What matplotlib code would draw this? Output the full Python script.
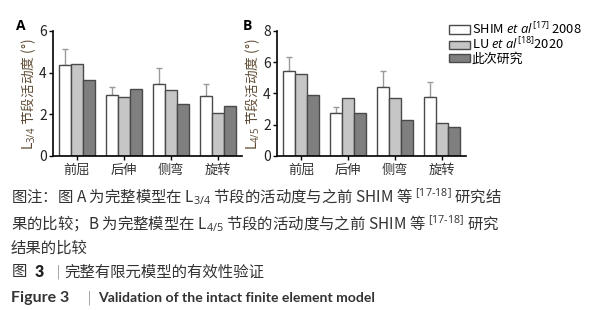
import numpy as np
import matplotlib
matplotlib.use('Agg')
from matplotlib import pyplot as plt

plt.rcParams['font.family'] = ['Noto Sans CJK SC', 'DejaVu Sans']
plt.rcParams['mathtext.fontset'] = 'custom'
plt.rcParams['mathtext.rm'] = 'Open Sans'
plt.rcParams['mathtext.it'] = 'Open Sans:italic'
plt.rcParams['mathtext.bf'] = 'Open Sans:bold'

categories = ['前屈', '后伸', '侧弯', '旋转']
series_names = [r'SHIM $\mathit{et\ al}^{\mathrm{[17]}}$ 2008',
                r'LU $\mathit{et\ al}^{\mathrm{[18]}}$2020',
                '此次研究']

# panel A: L3/4
shim_a = [4.35, 2.94, 3.47, 2.88]
shim_a_err = [0.79, 0.37, 0.74, 0.59]
lu_a = [4.40, 2.85, 3.18, 2.08]
this_a = [3.67, 3.23, 2.51, 2.42]

# panel B: L4/5
shim_b = [5.46, 2.77, 4.44, 3.75]
shim_b_err = [0.88, 0.39, 1.02, 1.01]
lu_b = [5.27, 3.71, 3.73, 2.09]
this_b = [3.93, 2.77, 2.33, 1.83]

colors = ['#ffffff', '#c6c6c6', '#7f7f7f']
edge = '#4a4a4a'
lab_color = '#5e4a33'

fig = plt.figure(figsize=(6.05, 3.10), dpi=100)
axA = fig.add_axes([0.0876, 0.497, 0.3124, 0.403])
axB = fig.add_axes([0.458, 0.497, 0.3124, 0.403])


def draw(ax, shim, err, lu, this, ymax, ylab):
    x = np.arange(len(categories))
    w = 0.255
    bars = []
    for i, (vals, c) in enumerate(zip([shim, lu, this], colors)):
        b = ax.bar(x + (i - 1) * w, vals, w, color=c, edgecolor=edge, linewidth=1.0, zorder=2)
        bars.append(b)
    ax.errorbar(x - w, shim, yerr=[np.zeros(len(err)), err], fmt='none',
                ecolor='#9a9a9a', elinewidth=1.0, capsize=2.2, capthick=1.0, zorder=1)
    ax.set_xlim(-0.51, 3.51)
    ax.set_ylim(0, ymax)
    ax.set_yticks(np.arange(0, ymax + 1, 2))
    ax.set_xticks(x)
    ax.set_xticklabels(categories, fontsize=9.5, color='#333333')
    ax.tick_params(axis='y', labelsize=10, length=3, width=1, pad=1.5, labelcolor='#222222')
    ax.tick_params(axis='x', length=3, width=1, pad=3)
    for s in ['top', 'right']:
        ax.spines[s].set_visible(False)
    ax.spines['left'].set_linewidth(1.2)
    ax.spines['bottom'].set_linewidth(1.2)
    ax.set_ylabel(ylab, fontsize=9.8, color=lab_color)
    ax.yaxis.label.set_va('center')
    ax.yaxis.set_label_coords(-0.13, 0.49)
    return bars


draw(axA, shim_a, shim_a_err, lu_a, this_a, 6, r'L$_{3/4}$ 节段活动度 (°)')
bars = draw(axB, shim_b, shim_b_err, lu_b, this_b, 8, r'L$_{4/5}$ 节段活动度 (°)')

fig.text(0.027, 0.915, 'A', fontsize=10, fontweight='bold', family='Open Sans', va='center')
fig.text(0.402, 0.915, 'B', fontsize=10, fontweight='bold', family='Open Sans', va='center')

# one legend per row so the rows can sit as close as in the reference
row_y = [0.907, 0.857, 0.810]
for b, name, yy in zip(bars, series_names, row_y):
    fig.legend([b], [name], loc='center left', bbox_to_anchor=(0.742, yy),
               frameon=False, fontsize=9.3, handlelength=1.6, handleheight=0.6,
               handletextpad=0.15, borderpad=0.0, borderaxespad=0.0)

cap = '#333333'
cfs = 11.1
fig.text(0.018, 0.365, r'图注：图 A 为完整模型在 L$_{3/4}$ 节段的活动度与之前 SHIM 等 $^{\text{[17-18]}}$ 研究结',
         fontsize=cfs, color=cap, va='center')
fig.text(0.018, 0.281, r'果的比较；B 为完整模型在 L$_{4/5}$ 节段的活动度与之前 SHIM 等 $^{\text{[17-18]}}$ 研究',
         fontsize=cfs, color=cap, va='center')
fig.text(0.018, 0.200, '结果的比较', fontsize=cfs, color=cap, va='center')

fig.text(0.020, 0.123, '图', fontsize=cfs, color=cap, va='center')
fig.text(0.057, 0.123, '3', fontsize=11.5, color='#222222', va='center', family='Lato', fontweight='heavy')
fig.text(0.092, 0.123, '|', fontsize=10, color='#777777', va='center', family='DejaVu Sans', fontweight='light')
fig.text(0.106, 0.123, '完整有限元模型的有效性验证', fontsize=cfs, color=cap, va='center')

fig.text(0.019, 0.039, 'Figure 3', fontsize=11.5, color=cap, va='center', family='Lato', fontweight='bold')
fig.text(0.143, 0.039, '|', fontsize=10, color='#777777', va='center', family='DejaVu Sans', fontweight='light')
fig.text(0.162, 0.039, 'Validation of the intact finite element model',
         fontsize=10.05, color=cap, va='center', family='Lato', fontweight='bold')

fig.savefig('out.png', dpi=100)
